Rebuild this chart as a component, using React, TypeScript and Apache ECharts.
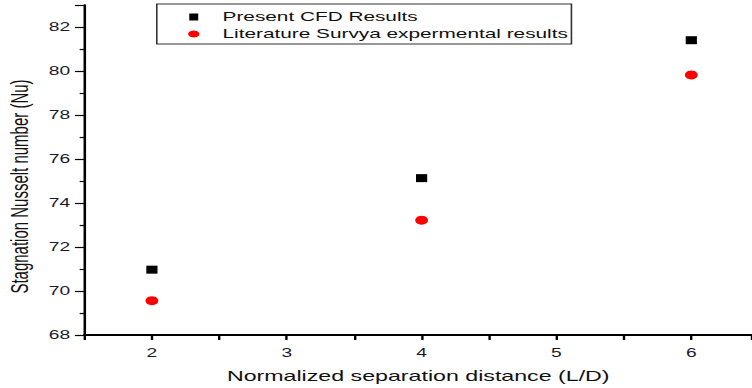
import React, { useEffect, useRef } from "react";
import * as echarts from "echarts";

// Normalized separation distance (L/D)
const xValues = [2, 4, 6];
// Stagnation Nusselt number from the CFD runs
const cfdResults = [70.97, 75.13, 81.4];
// Stagnation Nusselt number from Survya's experiments
const literatureResults = [69.56, 73.22, 79.82];

const seriesNames = ["Present CFD Results", "Literature Survya expermental results"];

const FONT = 'Arial, "Liberation Sans", sans-serif';
const STRETCH = 1.6;
const WIDTH = 752 / STRETCH;
const HEIGHT = 388;

export default function App() {
  const ref = useRef<HTMLDivElement>(null);

  useEffect(() => {
    if (!ref.current) return;
    const chart = echarts.init(ref.current, undefined, { renderer: "svg" });
    const pairs = (ys: number[]) => xValues.map((x, i) => [x, ys[i]]);

    chart.setOption({
      animation: false,
      backgroundColor: "#ffffff",
      grid: {
        left: 52.8,
        right: 0,
        top: 5,
        bottom: 53,
        containLabel: false,
        outerBoundsMode: "none",
      },
      legend: {
        orient: "vertical",
        left: 98,
        top: 4,
        padding: [6, 2, 3, 19.6],
        itemWidth: 26,
        itemHeight: 7,
        itemGap: 3,
        borderColor: "#333",
        borderWidth: 1,
        symbolKeepAspect: true,
        textStyle: { fontFamily: FONT, fontSize: 13, color: "#111", lineHeight: 14 },
        data: [
          { name: seriesNames[0], icon: "path://M0 0H8V10H0Z" },
          { name: seriesNames[1], icon: "circle" },
        ],
      },
      xAxis: {
        type: "value",
        min: 1.5,
        max: 6.45,
        interval: 0.5,
        name: "Normalized separation distance (L/D)",
        nameLocation: "middle",
        nameGap: 33,
        nameTextStyle: { fontFamily: FONT, fontSize: 14.5, color: "#111" },
        splitLine: { show: false },
        axisLine: { lineStyle: { color: "#000", width: 1.8 } },
        axisTick: { inside: false, length: 5, lineStyle: { color: "#000", width: 1.5 } },
        axisLabel: {
          margin: 12,
          fontFamily: FONT,
          fontSize: 12,
          color: "#1a1a2e",
          formatter: (v: number) => (Number.isInteger(v) ? String(v) : ""),
        },
      },
      yAxis: {
        type: "value",
        min: 68,
        max: 83,
        interval: 2,
        name: "Stagnation Nusselt number (Nu)",
        nameLocation: "middle",
        nameGap: 30,
        nameTextStyle: { fontFamily: FONT, fontSize: 15, color: "#111", padding: [0, 33, 0, 0] },
        splitLine: { show: false },
        axisLine: { lineStyle: { color: "#000", width: 1.6 } },
        axisTick: { inside: false, length: 6, lineStyle: { color: "#000", width: 1.2 } },
        minorTick: { show: true, splitNumber: 2, length: 3, lineStyle: { color: "#000", width: 1.2 } },
        axisLabel: {
          margin: 9,
          fontFamily: FONT,
          fontSize: 12,
          color: "#1a1a2e",
          showMaxLabel: false,
          formatter: (v: number) => (v % 2 === 0 ? String(v) : ""),
        },
      },
      series: [
        {
          name: seriesNames[0],
          type: "scatter",
          symbol: "rect",
          symbolSize: [7, 8],
          itemStyle: { color: "#000000", opacity: 1 },
          data: pairs(cfdResults),
        },
        {
          name: seriesNames[1],
          type: "scatter",
          symbol: "circle",
          symbolSize: [8, 9],
          itemStyle: { color: "#ff0000", opacity: 1 },
          data: pairs(literatureResults),
        },
      ],
    });

    return () => chart.dispose();
  }, []);

  return (
    <div
      ref={ref}
      style={{
        position: "absolute",
        left: 0,
        top: 0,
        width: WIDTH,
        height: HEIGHT,
        transform: `scaleX(${STRETCH})`,
        transformOrigin: "0 0",
      }}
    />
  );
}
